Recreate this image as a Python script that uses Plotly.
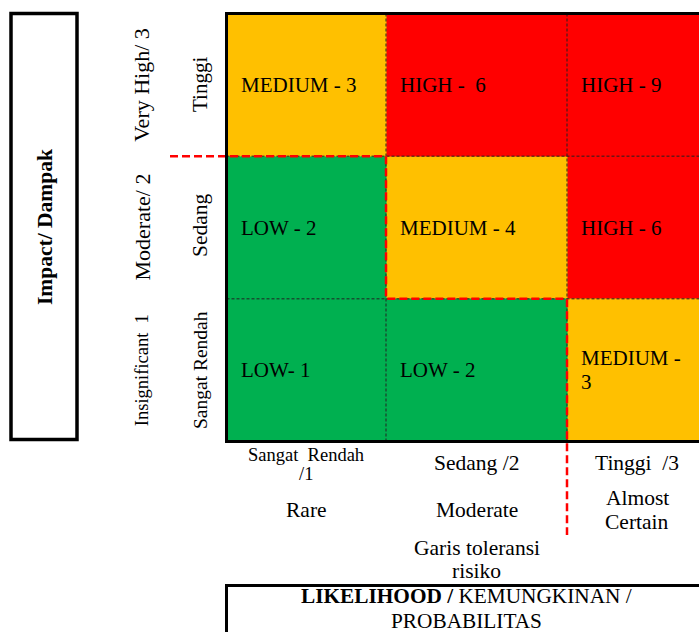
import plotly.graph_objects as go

# ---------------- data ----------------
likelihood_labels = ["Sangat  Rendah<br>/1", "Sedang /2", "Tinggi  /3"]
likelihood_desc = ["Rare", "Moderate", "Almost<br>Certain"]
impact_labels_en = ["Insignificant  1", "Moderate/ 2", "Very High/ 3"]   # bottom -> top
impact_labels_id = ["Sangat Rendah", "Sedang", "Tinggi"]                 # bottom -> top
# risk level per cell (0 = LOW, 1 = MEDIUM, 2 = HIGH), rows bottom -> top
risk_level = [
    [0, 0, 1],
    [0, 1, 2],
    [1, 2, 2],
]
cell_labels = [
    ["LOW- 1", "LOW - 2", "MEDIUM -<br>3"],
    ["LOW - 2", "MEDIUM - 4", "HIGH - 6"],
    ["MEDIUM - 3", "HIGH -  6", "HIGH - 9"],
]
tolerance_text = "Garis toleransi<br>risiko"
x_title = "<b>LIKELIHOOD /</b> KEMUNGKINAN /<br>PROBABILITAS"
y_title = "<b>Impact/ Dampak</b>"

# ---------------- layout constants ----------------
W, H = 699, 632
COL_WIDTHS = [159.5, 181, 140]
MATRIX_LEFT_PX = 226.5
MATRIX_TOP_PX = 13.5
MATRIX_BOTTOM_PX = 441.5
N_ROWS = 3
ROW_PX = (MATRIX_BOTTOM_PX - MATRIX_TOP_PX) / N_ROWS

GREEN, ORANGE, RED = "#00B050", "#FFC000", "#FF0000"
FONT = "Liberation Serif, Times New Roman, serif"

col_edges = [0.0]
for w in COL_WIDTHS:
    col_edges.append(col_edges[-1] + w)
row_edges = list(range(N_ROWS + 1))
col_centers = [(col_edges[i] + col_edges[i + 1]) / 2 for i in range(3)]
row_centers = [r + 0.5 for r in range(N_ROWS)]


def ydata(px):  # pixel -> y data
    return N_ROWS - (px - MATRIX_TOP_PX) / ROW_PX


def xdata(px):
    return px - MATRIX_LEFT_PX


fig = go.Figure()
fig.add_trace(go.Heatmap(
    x=col_edges, y=row_edges, z=risk_level,
    zmin=0, zmax=2, showscale=False, hoverinfo="skip",
    colorscale=[[0, GREEN], [1 / 3, GREEN], [1 / 3, ORANGE], [2 / 3, ORANGE],
                [2 / 3, RED], [1, RED]],
))

shapes = []
for xe in col_edges[1:-1]:
    shapes.append(dict(type="line", xref="x", yref="y", x0=xe, x1=xe, y0=0, y1=N_ROWS,
                       line=dict(color="#222222", width=1, dash="3px,2px")))
for ye in row_edges[1:-1]:
    shapes.append(dict(type="line", xref="x", yref="y", x0=0, x1=col_edges[-1], y0=ye, y1=ye,
                       line=dict(color="#222222", width=1, dash="3px,2px")))
# risk tolerance line
path = (f"M {xdata(170)},{row_edges[2]} L {col_edges[1]},{row_edges[2]} "
        f"L {col_edges[1]},{row_edges[1]} L {col_edges[2]},{row_edges[1]} "
        f"L {col_edges[2]},{ydata(535)}")
shapes.append(dict(type="path", xref="x", yref="y", path=path,
                   line=dict(color=RED, width=2.5, dash="8px,4px")))
# matrix frame
shapes.append(dict(type="rect", xref="x", yref="y", x0=0, x1=col_edges[-1], y0=0, y1=N_ROWS,
                   line=dict(color="black", width=3)))
# left title box
shapes.append(dict(type="rect", xref="x", yref="y", x0=xdata(11), x1=xdata(77),
                   y0=ydata(439.5), y1=N_ROWS, line=dict(color="black", width=3.5)))
# bottom title box
shapes.append(dict(type="rect", xref="x", yref="y", x0=0, x1=col_edges[-1],
                   y0=ydata(660), y1=ydata(585.5), line=dict(color="black", width=3)))

ann = []


def add_text(text, x, y_px, size, spacing, xanchor="center", xshift=0):
    """Place (multi-line) text, one annotation per line, centred around y_px."""
    lines = text.split("<br>")
    n = len(lines)
    for i, line in enumerate(lines):
        ly = y_px + (i - (n - 1) / 2) * spacing
        ann.append(dict(x=x, y=ydata(ly), xref="x", yref="y", text=line, showarrow=False,
                        xanchor=xanchor, yanchor="middle", xshift=xshift,
                        font=dict(family=FONT, size=size, color="black")))


# cell labels
for r in range(N_ROWS):
    yc = MATRIX_TOP_PX + (N_ROWS - row_centers[r]) * ROW_PX
    for c in range(3):
        add_text(cell_labels[r][c], col_edges[c], yc, 21, 24, xanchor="left", xshift=12)

# impact labels (rotated)
en_sizes = [18.5, 22, 22]
id_sizes = [19.5, 21.5, 21]
id_centers_px = [370, 225, 85]
for r in range(N_ROWS):
    ann.append(dict(x=xdata(142), y=row_centers[r], xref="x", yref="y",
                    text=impact_labels_en[r], showarrow=False, textangle=-90,
                    xanchor="center", yanchor="middle",
                    font=dict(family=FONT, size=en_sizes[r], color="black")))
    ann.append(dict(x=xdata(200), y=ydata(id_centers_px[r]), xref="x", yref="y",
                    text=impact_labels_id[r], showarrow=False, textangle=-90,
                    xanchor="center", yanchor="middle",
                    font=dict(family=FONT, size=id_sizes[r], color="black")))
ann.append(dict(x=xdata(45), y=ydata(227), xref="x", yref="y", text=y_title,
                showarrow=False, textangle=-90, xanchor="center", yanchor="middle",
                font=dict(family=FONT, size=21.5, color="black")))

# likelihood labels
add_text(likelihood_labels[0], col_centers[0], 464, 18.5, 19)
add_text(likelihood_labels[1], col_centers[1], 463, 21.5, 24)
add_text(likelihood_labels[2], col_centers[2], 463, 21.5, 24)
for c in range(3):
    add_text(likelihood_desc[c], col_centers[c], 510, 21.5, 24)
add_text(tolerance_text, col_centers[1], 559, 21.5, 23)
add_text(x_title, (col_edges[0] + col_edges[-1]) / 2, 608, 21.3, 25)

fig.update_layout(
    width=W, height=H, margin=dict(l=0, r=0, t=0, b=0),
    paper_bgcolor="white", plot_bgcolor="white", showlegend=False,
    xaxis=dict(domain=[0, 1], range=[xdata(0), xdata(W)], visible=False, fixedrange=True),
    yaxis=dict(domain=[0, 1], range=[ydata(H), ydata(0)], visible=False, fixedrange=True),
    shapes=shapes, annotations=ann,
)
fig.write_html("out.html",
               config={"displayModeBar": False},
               post_script="document.body.style.margin='0';"
                           "document.body.style.overflow='hidden';")
